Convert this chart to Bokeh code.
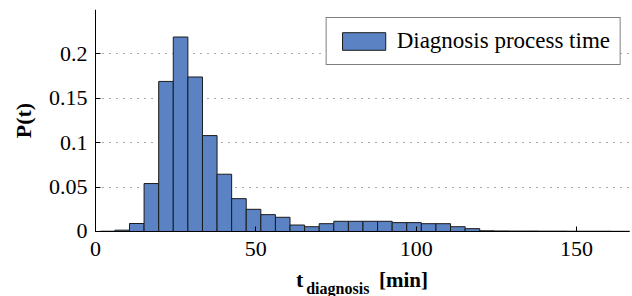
from bokeh.plotting import figure
from bokeh.models import (Range1d, FixedTicker, CustomJSTickFormatter, Label,
                          Legend, LegendItem, ColumnDataSource)
from bokeh.embed import file_html
from bokeh.resources import INLINE

# ---- data ----
bin_left = [1.5, 6.05, 10.6, 15.15, 19.7, 24.25, 28.8, 33.35, 37.9, 42.45, 47.0,
            51.55, 56.1, 60.65, 65.2, 69.75, 74.3, 78.85, 83.4, 87.95, 92.5,
            97.05, 101.6, 106.15, 110.7, 115.25, 119.8, 124.35, 128.9, 133.45,
            138.0, 142.55, 147.1, 151.65, 156.2, 160.75, 165.3]
bin_right = [6.05, 10.6, 15.15, 19.7, 24.25, 28.8, 33.35, 37.9, 42.45, 47.0,
             51.55, 56.1, 60.65, 65.2, 69.75, 74.3, 78.85, 83.4, 87.95, 92.5,
             97.05, 101.6, 106.15, 110.7, 115.25, 119.8, 124.35, 128.9, 133.45,
             138.0, 142.55, 147.1, 151.65, 156.2, 160.75, 165.3, 169.85]
prob = [0.0003, 0.0015, 0.009, 0.054, 0.169, 0.219, 0.174, 0.108, 0.0645,
        0.037, 0.025, 0.019, 0.016, 0.0073, 0.0054, 0.0088, 0.0115, 0.0115,
        0.0115, 0.0115, 0.010, 0.010, 0.0088, 0.0088, 0.0054, 0.0032, 0.0008,
        0.0006, 0.0005, 0.0005, 0.0004, 0.0004, 0.0003, 0.0003, 0.0003,
        0.0002, 0.0002]
x_ticks = [0, 50, 100, 150]
y_ticks = [0, 0.05, 0.1, 0.15, 0.2]
x_max = 166.5
y_max = 0.25
legend_label = "Diagnosis process time"
y_label = "P(t)"
x_label_main = "t"
x_label_sub = "diagnosis"
x_label_unit = "[min]"

FONT = "Liberation Serif"

src = ColumnDataSource(dict(left=bin_left, right=bin_right, top=prob,
                            bottom=[0] * len(prob)))

# The frame covers the whole canvas; both axes are fixed at 0 so that the
# x-axis title (with subscript) can be drawn as real text below the axis.
p = figure(width=632, height=296, output_backend="svg", toolbar_location=None,
           x_range=Range1d(-29.62, x_max), y_range=Range1d(-0.0732, y_max),
           min_border_left=0, min_border_right=3, min_border_top=9,
           min_border_bottom=0)
p.outline_line_color = None
p.background_fill_color = "white"
p.border_fill_color = "white"

r = p.quad(left="left", right="right", top="top", bottom="bottom", source=src,
           fill_color="#5b83c4", line_color="#1a1a1a", line_width=1)

# axes
for ax in (p.xaxis[0], p.yaxis[0]):
    ax.major_tick_in = 5
    ax.major_tick_out = 0
    ax.minor_tick_line_color = None
    ax.axis_line_color = "black"
    ax.major_tick_line_color = "black"
    ax.major_label_text_font = FONT
    ax.major_label_text_font_size = "22px"
    ax.major_label_text_color = "black"
    ax.fixed_location = 0

p.xaxis.ticker = FixedTicker(ticks=x_ticks)
p.xaxis.bounds = (0, x_max)
p.yaxis.ticker = FixedTicker(ticks=y_ticks)
p.yaxis.bounds = (0, y_max)
p.yaxis.formatter = CustomJSTickFormatter(code="return String(Math.round(tick*100)/100);")
p.xaxis.major_label_standoff = 11
p.yaxis.major_label_standoff = 8

p.yaxis.axis_label = y_label
p.yaxis.axis_label_text_font = FONT
p.yaxis.axis_label_text_font_style = "bold"
p.yaxis.axis_label_text_font_size = "22px"
p.yaxis.axis_label_standoff = 10
p.yaxis.axis_label_text_color = "black"

# grid
p.xgrid.grid_line_color = None
p.ygrid.grid_line_color = "#555555"
p.ygrid.grid_line_dash = "1 6"
p.ygrid.grid_line_width = 1
p.ygrid.cross_bounds = (0, x_max)

# x axis title with subscript (data x, data y below the axis)
lab_kw = dict(text_font=FONT, text_font_style="bold", text_color="black",
              text_baseline="alphabetic")
p.add_layout(Label(x=62.5, y=-0.0541, text=x_label_main, text_font_size="22px", **lab_kw))
p.add_layout(Label(x=65.7, y=-0.0640, text=x_label_sub, text_font_size="16px", **lab_kw))
p.add_layout(Label(x=88.4, y=-0.0541, text=x_label_unit, text_font_size="21px", **lab_kw))

legend = Legend(items=[LegendItem(label=legend_label, renderers=[r])],
                location="top_right")
legend.label_text_font = FONT
legend.label_text_font_size = "23px"
legend.label_text_color = "black"
legend.glyph_width = 54
legend.glyph_height = 22
legend.label_standoff = 6
legend.padding = 10
legend.margin = 8
legend.border_line_color = "black"
legend.border_line_width = 1
legend.background_fill_alpha = 1
p.add_layout(legend)

open("out.html", "w").write(file_html(p, INLINE))
